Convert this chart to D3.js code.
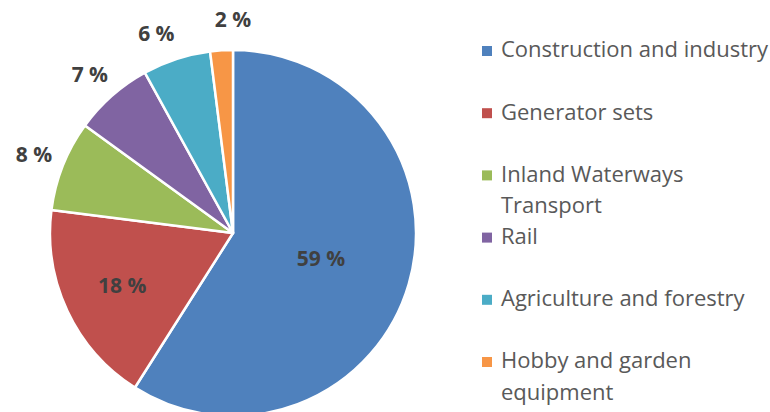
<!DOCTYPE html>
<html>
<head>
<meta charset="utf-8">
<script src="https://cdn.jsdelivr.net/npm/d3@7"></script>
<style>
  html, body { margin: 0; padding: 0; background: #fff; }
  #chart { width: 770px; height: 412px; }
</style>
</head>
<body>
<div id="chart"></div>
<script>
// data
const categories = ['Construction and industry', 'Generator sets', 'Inland Waterways Transport', 'Rail', 'Agriculture and forestry', 'Hobby and garden equipment'];
const shares = [59, 18, 8, 7, 6, 2];
const colours = ['#4F81BD', '#C0504D', '#9BBB59', '#8064A2', '#4BACC6', '#F79646'];
const legendLines = [['Construction and industry'], ['Generator sets'], ['Inland Waterways', 'Transport'], ['Rail'], ['Agriculture and forestry'], ['Hobby and garden', 'equipment']];

let width = 770,
  height = 412,
  cx = 233,
  cy = 233,
  radius = 183;

let svg = d3.select('#chart').append('svg')
  .attr('width', width)
  .attr('height', height)
  .style('font-family', "'Open Sans', 'Noto Sans', sans-serif");

let pieData = d3.pie().sort(null).value(function(d) { return d; })(shares);

let arc = d3.arc().innerRadius(0).outerRadius(radius);

let pieLayer = svg.append('g').attr('transform', 'translate(' + [cx, cy] + ')');

pieLayer.selectAll('path')
  .data(pieData)
  .enter().append('path')
  .attr('d', arc)
  .attr('fill', function(d, i) { return colours[i]; })
  .attr('stroke', '#fff')
  .attr('stroke-width', 2.5)
  .attr('stroke-linejoin', 'round');

// label placement: big slices inside (near the sector centroid),
// small ones outside, spread apart so they keep a minimum angle
let outerR = radius + 31,
  minGap = 21 * Math.PI / 180;

pieData.forEach(function(d) {
  d.mid = (d.startAngle + d.endAngle) / 2;
  d.inside = d.data >= 10;
  if (d.inside) {
    let half = (d.endAngle - d.startAngle) / 2;
    let cen = 2 * radius * Math.sin(half) / (3 * half);
    d.lr = Math.max(cen * 1.06, radius * 0.5);
  } else {
    d.lr = outerR;
  }
  d.la = d.mid;
});

let outside = pieData.filter(function(d) { return !d.inside; });
for (let k = 0; k < 50; k++) {
  for (let j = 1; j < outside.length; j++) {
    let a = outside[j - 1], b = outside[j];
    let gap = b.la - a.la;
    if (gap < minGap) {
      let push = (minGap - gap) / 2;
      a.la -= push;
      b.la += push;
    }
  }
}

pieLayer.selectAll('text.lbl')
  .data(pieData)
  .enter().append('text')
  .attr('class', 'lbl')
  .attr('x', function(d) { return d.lr * Math.sin(d.la); })
  .attr('y', function(d) { return -d.lr * Math.cos(d.la); })
  .attr('text-anchor', 'middle')
  .attr('dy', '0.36em')
  .attr('font-size', 21)
  .attr('font-weight', 'bold')
  .attr('fill', '#404040')
  .text(function(d) { return d.data + ' %'; });

// legend
let legendY = d3.scalePoint().domain(d3.range(categories.length)).range([49.5, 360.5]);

let legend = svg.append('g').attr('class', 'legend');
let item = legend.selectAll('g')
  .data(categories)
  .enter().append('g')
  .attr('transform', function(d, i) { return 'translate(' + [482, legendY(i)] + ')'; });

item.append('rect')
  .attr('x', 0)
  .attr('y', -3.5)
  .attr('width', 10)
  .attr('height', 10)
  .attr('fill', function(d, i) { return colours[i]; });

item.append('text')
  .attr('font-size', 22)
  .attr('fill', '#595959')
  .selectAll('tspan')
  .data(function(d, i) { return legendLines[i]; })
  .enter().append('tspan')
  .attr('x', 19)
  .attr('y', function(d, j) { return j * 31.5; })
  .attr('dy', '0.357em')
  .text(function(d) { return d; });
</script>
</body>
</html>
